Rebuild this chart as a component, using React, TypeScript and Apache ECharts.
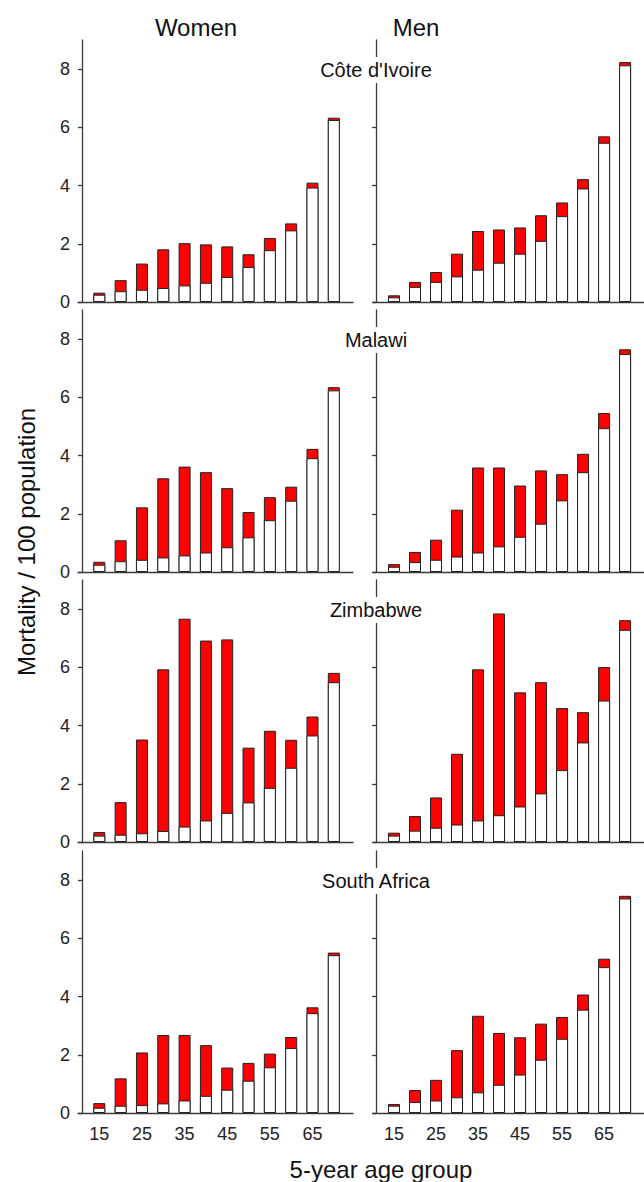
import React, { useEffect, useRef } from "react";
import * as echarts from "echarts";

const ages = [15, 20, 25, 30, 35, 40, 45, 50, 55, 60, 65, 70];
const ageTickLabels = [15, 25, 35, 45, 55, 65];
const yTickValues = [0, 2, 4, 6, 8];
const countries = ["Côte d'Ivoire", "Malawi", "Zimbabwe", "South Africa"];
const sexes = ["Women", "Men"];

// non-HIV (white) and HIV-attributable (red) mortality per 100
const ciWomenOther = [0.25, 0.37, 0.42, 0.48, 0.57, 0.66, 0.86, 1.2, 1.78, 2.46, 3.93, 6.25];
const ciWomenHiv = [0.07, 0.38, 0.9, 1.33, 1.45, 1.32, 1.05, 0.44, 0.42, 0.24, 0.17, 0.08];
const ciMenOther = [0.16, 0.52, 0.69, 0.88, 1.11, 1.35, 1.66, 2.1, 2.95, 3.9, 5.47, 8.13];
const ciMenHiv = [0.07, 0.17, 0.34, 0.78, 1.33, 1.14, 0.9, 0.88, 0.47, 0.32, 0.22, 0.11];

const mwWomenOther = [0.25, 0.37, 0.42, 0.5, 0.57, 0.67, 0.85, 1.19, 1.78, 2.45, 3.91, 6.24];
const mwWomenHiv = [0.1, 0.72, 1.8, 2.72, 3.05, 2.76, 2.03, 0.87, 0.79, 0.48, 0.32, 0.11];
const mwMenOther = [0.18, 0.34, 0.42, 0.53, 0.67, 0.88, 1.21, 1.66, 2.46, 3.43, 4.94, 7.49];
const mwMenHiv = [0.09, 0.35, 0.69, 1.61, 2.92, 2.71, 1.76, 1.83, 0.9, 0.63, 0.52, 0.16];

const zwWomenOther = [0.22, 0.25, 0.3, 0.38, 0.53, 0.74, 1.0, 1.36, 1.86, 2.55, 3.66, 5.49];
const zwWomenHiv = [0.12, 1.12, 3.22, 5.55, 7.14, 6.18, 5.96, 1.88, 1.96, 0.96, 0.65, 0.32];
const zwMenOther = [0.22, 0.39, 0.49, 0.6, 0.74, 0.92, 1.22, 1.67, 2.47, 3.42, 4.86, 7.29];
const zwMenHiv = [0.1, 0.5, 1.04, 2.43, 5.19, 6.93, 3.92, 3.82, 2.13, 1.04, 1.15, 0.33];

const saWomenOther = [0.18, 0.25, 0.27, 0.33, 0.43, 0.59, 0.8, 1.11, 1.57, 2.23, 3.43, 5.42];
const saWomenHiv = [0.16, 0.94, 1.81, 2.35, 2.25, 1.74, 0.76, 0.61, 0.47, 0.38, 0.2, 0.09];
const saMenOther = [0.25, 0.38, 0.43, 0.54, 0.71, 0.97, 1.32, 1.83, 2.55, 3.55, 5.01, 7.37];
const saMenHiv = [0.06, 0.41, 0.71, 1.62, 2.63, 1.78, 1.28, 1.24, 0.75, 0.52, 0.29, 0.09];

const panelData = [
  [ciWomenOther, ciWomenHiv, ciMenOther, ciMenHiv],
  [mwWomenOther, mwWomenHiv, mwMenOther, mwMenHiv],
  [zwWomenOther, zwWomenHiv, zwMenOther, zwMenHiv],
  [saWomenOther, saWomenHiv, saMenOther, saMenHiv],
];

const FONT = "'Liberation Sans', Arial, sans-serif";
const AXIS_COLOR = "#3a3a3a";
const BORDER = "#222";

export default function App() {
  const ref = useRef<HTMLDivElement>(null);

  useEffect(() => {
    if (!ref.current) return;
    const chart = echarts.init(ref.current, undefined, { renderer: "svg" });

    const zeroY = [302, 572, 842, 1113];
    const gridH = 262;
    const gridLeft = [78, 373];
    const yAxisShift = [-4, -3];
    const gridW = 275;

    const grids: any[] = [];
    const xAxes: any[] = [];
    const yAxes: any[] = [];
    const series: any[] = [];

    for (let r = 0; r < 4; r++) {
      for (let c = 0; c < 2; c++) {
        const i = r * 2 + c;
        grids.push({ left: gridLeft[c], top: zeroY[r] - gridH, width: gridW, height: gridH });
        xAxes.push({
          type: "value",
          gridIndex: i,
          min: 10,
          max: 74.5,
          axisLine: { show: true, onZero: false, lineStyle: { color: AXIS_COLOR, width: 1.3 } },
          axisTick: { show: false },
          splitLine: { show: false },
          axisLabel:
            r === 3
              ? { show: true, customValues: ageTickLabels, fontSize: 18, color: "#222", margin: 12, fontFamily: FONT }
              : { show: false },
        });
        yAxes.push({
          type: "value",
          gridIndex: i,
          min: 0,
          max: 9,
          offset: yAxisShift[c],
          axisLine: { show: true, onZero: false, lineStyle: { color: AXIS_COLOR, width: 1.3 } },
          axisTick: { show: true, length: 4, customValues: yTickValues, lineStyle: { color: AXIS_COLOR, width: 1.3 } },
          splitLine: { show: false },
          axisLabel:
            c === 0
              ? { show: true, customValues: yTickValues, fontSize: 18, color: "#222", margin: 12, fontFamily: FONT }
              : { show: false },
        });
        const other = panelData[r][c * 2];
        const hiv = panelData[r][c * 2 + 1];
        // red bar spans the whole total; the white non-HIV part is drawn over its lower portion
        series.push({
          type: "bar",
          name: "HIV",
          xAxisIndex: i,
          yAxisIndex: i,
          barWidth: 12,
          barGap: "-100%",
          data: ages.map((a, k) => [a, +(other[k] + hiv[k]).toFixed(3)]),
          itemStyle: { color: "#ff0000", borderColor: BORDER, borderWidth: 1 },
        });
        series.push({
          type: "bar",
          name: "Other",
          xAxisIndex: i,
          yAxisIndex: i,
          barWidth: 12,
          barGap: "-100%",
          data: ages.map((a, k) => [a, other[k]]),
          itemStyle: { color: "#ffffff", borderColor: BORDER, borderWidth: 1 },
        });
      }
    }

    const graphic: any[] = [
      {
        type: "text", x: 196, y: 27, z: 100,
        style: { text: sexes[0], font: `24px ${FONT}`, fill: "#111", align: "center", verticalAlign: "middle" },
      },
      {
        type: "text", x: 416, y: 27, z: 100,
        style: { text: sexes[1], font: `24px ${FONT}`, fill: "#111", align: "center", verticalAlign: "middle" },
      },
      {
        type: "text", x: 26, y: 542, rotation: Math.PI / 2, z: 100,
        style: { text: "Mortality / 100 population", font: `24px ${FONT}`, fill: "#111", align: "center", verticalAlign: "middle" },
      },
      {
        type: "text", x: 381, y: 1169, z: 100,
        style: { text: "5-year age group", font: `24px ${FONT}`, fill: "#111", align: "center", verticalAlign: "middle" },
      },
    ];
    countries.forEach((name, r) => {
      graphic.push({
        type: "text",
        x: 376,
        y: zeroY[r] - 8 * (gridH / 9) + 1,
        z: 100,
        style: {
          text: name,
          font: `20px ${FONT}`,
          fill: "#111",
          align: "center",
          verticalAlign: "middle",
          backgroundColor: "#ffffff",
          padding: [3, 0],
        },
      });
    });

    chart.setOption({
      animation: false,
      backgroundColor: "#ffffff",
      grid: grids,
      xAxis: xAxes,
      yAxis: yAxes,
      series,
      graphic,
    });

    return () => chart.dispose();
  }, []);

  return (
    <div
      ref={ref}
      style={{ position: "absolute", left: 0, top: 0, width: 644, height: 1182 }}
    />
  );
}
